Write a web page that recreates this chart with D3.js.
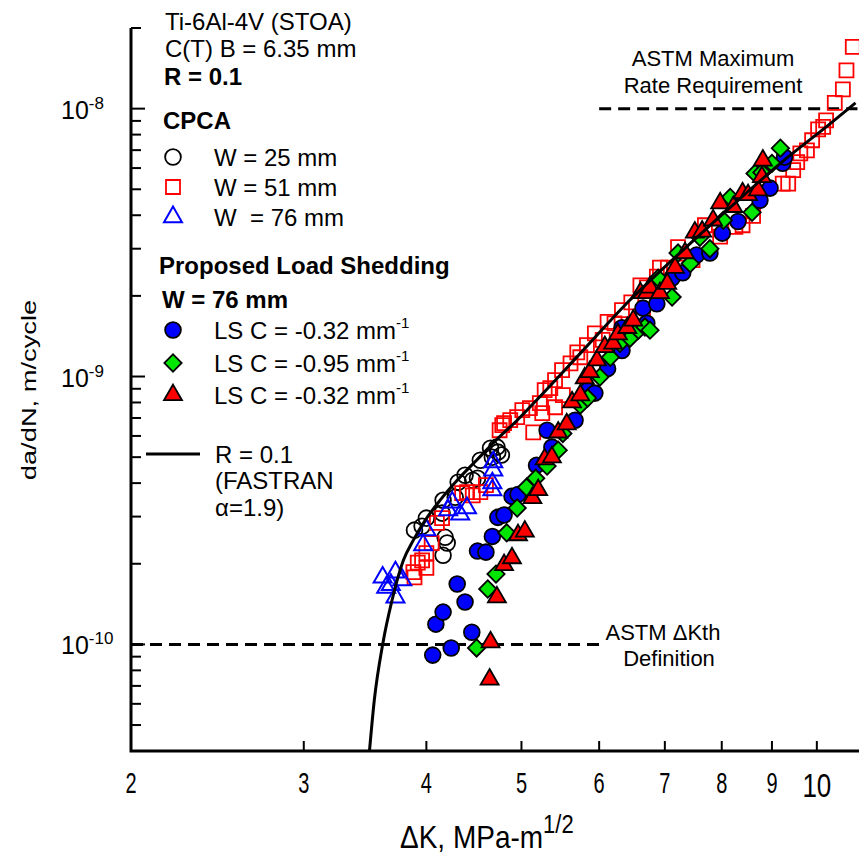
<!DOCTYPE html>
<html>
<head>
<meta charset="utf-8">
<script src="https://cdn.jsdelivr.net/npm/d3@7"></script>
<style>
body { margin: 0; background: #fff; }
svg { display: block; font-family: "Liberation Sans", Arial, sans-serif; }
</style>
</head>
<body>
<div id="chart"></div>
<script>
// CPCA data [deltaK, da/dN]
const cpcaW25 = [[3.89,2.67e-10],[3.96,2.76e-10],[4.00,2.96e-10],[4.15,3.09e-10],[4.16,3.45e-10],
  [4.18,2.51e-10],[4.20,2.39e-10],[4.16,2.15e-10],[4.31,4.03e-10],[4.38,4.28e-10],[4.46,4.10e-10],
  [4.51,4.17e-10],[4.54,4.87e-10],[4.65,5.40e-10],[4.67,5.00e-10],[4.72,5.45e-10],[4.73,5.22e-10],
  [4.77,5.09e-10],[4.28,3.54e-10]];

const cpcaW51 = [[3.88,1.86e-10],[3.92,2.02e-10],[4.00,1.93e-10],[3.89,1.78e-10],[3.96,2.06e-10],
  [4.00,2.19e-10],[4.05,2.39e-10],[4.10,2.84e-10],[4.15,2.96e-10],[4.35,3.67e-10],[4.40,3.70e-10],
  [4.46,3.60e-10],[4.54,3.70e-10],[4.60,3.93e-10],[4.75,6.30e-10],[4.78,6.58e-10],[4.80,6.70e-10],
  [4.87,6.87e-10],[4.95,7.05e-10],[5.01,7.49e-10],[5.10,7.62e-10],[5.14,6.19e-10],[5.22,7.95e-10],
  [5.25,7.30e-10],[5.28,8.89e-10],[5.35,9.05e-10],[5.41,7.68e-10],[5.41,9.69e-10],[5.50,1.056e-9],
  [5.51,8.52e-10],[5.61,1.12e-9],[5.70,1.23e-9],[5.74,1.18e-9],[5.83,1.31e-9],[5.94,1.45e-9],
  [6.05,1.37e-9],[6.12,1.60e-9],[6.22,1.58e-9],[6.33,1.77e-9],[6.47,1.89e-9],[6.61,2.19e-9],
  [6.71,2.15e-9],[6.65,1.74e-9],[6.87,2.36e-9],[6.92,2.55e-9],[7.05,2.55e-9],[7.22,3.04e-9],
  [7.25,2.55e-9],[7.47,2.72e-9],[7.69,3.67e-9],[7.97,3.33e-9],[8.26,3.62e-9],[8.40,3.67e-9],
  [8.61,3.98e-9],[9.23,5.25e-9],[9.35,5.25e-9],[9.46,5.89e-9],[9.55,6.31e-9],[9.62,6.81e-9],
  [9.77,6.99e-9],[9.89,7.62e-9],[10.03,8.37e-9],[10.15,8.55e-9],[10.22,9.04e-9],[10.43,1.05e-8],
  [10.63,1.18e-8],[10.72,1.39e-8],[10.88,1.70e-8]];

const cpcaW76 = [[3.61,1.78e-10],[3.64,1.63e-10],[3.68,1.67e-10],[3.72,1.50e-10],[3.78,1.74e-10],
  [3.72,1.86e-10],[3.97,2.35e-10],[4.00,2.67e-10],[4.21,3.17e-10],[4.25,3.39e-10],[4.33,3.06e-10],
  [4.40,3.23e-10],[4.68,4.79e-10],[4.68,4.47e-10],[4.67,4.00e-10],[4.67,3.77e-10]];

// Proposed load shedding, W = 76 mm
const lsC032 = [[4.06,9.12e-11],[4.24,9.7e-11],[4.09,1.19e-10],[4.16,1.32e-10],[4.30,1.68e-10],
  [4.38,1.44e-10],[4.45,1.11e-10],[4.51,2.23e-10],[4.60,2.21e-10],[4.67,2.53e-10],[4.73,2.98e-10],
  [4.80,3.04e-10],[4.89,3.57e-10],[4.96,3.63e-10],[5.18,4.66e-10],[5.31,6.30e-10],[5.37,5.45e-10],
  [5.67,6.87e-10],[5.84,8.89e-10],[5.94,8.67e-10],[6.12,1.07e-9],[6.33,1.25e-9],[6.33,1.52e-9],
  [6.65,1.80e-9],[6.71,1.58e-9],[6.87,1.87e-9],[7.12,2.33e-9],[7.30,2.44e-9],[7.54,2.84e-9],
  [7.78,2.89e-9],[8.01,3.43e-9],[8.31,3.79e-9],[8.75,4.55e-9],[8.96,5.05e-9],[9.23,6.25e-9],
  [9.27,6.59e-9]];

const lsC095 = [[4.50,9.7e-11],[4.62,1.61e-10],[4.71,1.83e-10],[4.83,2.61e-10],[4.95,3.23e-10],
  [5.06,3.86e-10],[5.17,4.17e-10],[5.31,4.63e-10],[5.45,5.31e-10],[5.51,6.13e-10],[5.74,7.82e-10],
  [5.84,8.31e-10],[6.01,9.95e-10],[6.16,1.18e-9],[6.30,1.33e-9],[6.45,1.39e-9],[6.58,1.49e-9],
  [6.68,1.53e-9],[6.76,1.49e-9],[6.89,2.33e-9],[7.12,1.98e-9],[7.22,2.89e-9],[7.43,2.64e-9],
  [7.60,3.31e-9],[7.78,3.00e-9],[8.03,3.83e-9],[8.16,4.66e-9],[8.59,4.10e-9],[8.65,5.73e-9],
  [8.79,5.78e-9],[9.00,6.25e-9],[9.18,7.12e-9]];

const lsC032b = [[4.64,7.4e-11],[4.65,1.02e-10],[4.72,1.50e-10],[4.80,1.98e-10],[4.89,2.10e-10],
  [4.96,2.56e-10],[5.04,2.64e-10],[5.13,3.52e-10],[5.20,3.77e-10],[5.28,4.91e-10],[5.37,5.00e-10],
  [5.45,6.19e-10],[5.56,6.64e-10],[5.63,8.02e-10],[5.74,8.52e-10],[5.80,9.85e-10],[5.87,1.04e-9],
  [5.97,1.15e-9],[6.08,1.29e-9],[6.20,1.33e-9],[6.27,1.44e-9],[6.41,1.52e-9],[6.50,1.62e-9],
  [6.61,2.05e-9],[6.71,2.05e-9],[6.76,2.15e-9],[6.92,2.05e-9],[7.04,2.22e-9],[7.17,2.55e-9],
  [7.34,2.89e-9],[7.51,3.45e-9],[7.64,3.48e-9],[7.84,3.83e-9],[7.97,4.44e-9],[8.22,4.30e-9],
  [8.40,4.84e-9],[8.51,4.76e-9],[8.71,4.96e-9],[8.79,5.56e-9],[8.81,6.41e-9]];

// FASTRAN R = 0.1, alpha = 1.9
const fastranR01 = [[3.50,4.0e-11],[3.54,6.2e-11],[3.61,1.0e-10],[3.69,1.46e-10],[3.79,2.06e-10],
  [3.88,2.45e-10],[3.99,2.91e-10],[4.13,3.45e-10],[4.30,4.10e-10],[4.50,4.87e-10],[4.71,5.78e-10],
  [4.95,6.87e-10],[5.18,8.16e-10],[5.74,1.22e-9],[6.45,1.93e-9],[7.25,2.89e-9],[8.16,4.28e-9],
  [9.18,6.25e-9],[10.32,8.79e-9],[10.95,1.05e-8]];

// ASTM limits: [da/dN, deltaK from, deltaK to]
const astmLimits = [[1e-10, 2, 6], [1e-8, 6, 11.0]];

const xTickValues = [3, 4, 5, 6, 7, 8, 9, 10];
const xTickLabels = ['2', '3', '4', '5', '6', '7', '8', '9'];
const yMajorValues = [1e-10, 1e-9, 1e-8];
const yMajorExps = ['-10', '-9', '-8'];

const W = 859, H = 856;
const svg = d3.select('#chart').append('svg').attr('width', W).attr('height', H);

const x = d3.scaleLog().domain([2, 11.04]).range([131, 859]);
const y = d3.scaleLog().domain([4e-11, 2e-8]).range([751, 28]);

// axis lines
svg.append('path')
  .attr('d', `M${x(2)},${y(2e-8)}V${y(4e-11)}H${x(11.04)}`)
  .attr('fill', 'none').attr('stroke', '#000').attr('stroke-width', 3);

// y ticks (inside)
y.ticks().filter(v => v > 4.1e-11).forEach(v => {
  const major = Math.abs(Math.log10(v) - Math.round(Math.log10(v))) < 1e-6;
  svg.append('line')
    .attr('x1', x(2)).attr('x2', x(2) + (major ? 14 : 10))
    .attr('y1', y(v)).attr('y2', y(v))
    .attr('stroke', '#000').attr('stroke-width', 2);
});
// x ticks (inside)
xTickValues.forEach(v => {
  svg.append('line')
    .attr('x1', x(v)).attr('x2', x(v))
    .attr('y1', y(4e-11)).attr('y2', y(4e-11) - 10)
    .attr('stroke', '#000').attr('stroke-width', 2);
});

// x tick labels
xTickLabels.forEach(t => {
  svg.append('text')
    .attr('transform', `translate(${x(+t)},793) scale(1,1.43)`)
    .attr('text-anchor', 'middle').attr('font-size', 20).text(t);
});
svg.append('text')
  .attr('transform', `translate(${x(10)},797) scale(1,1.3)`)
  .attr('text-anchor', 'middle').attr('font-size', 26).text('10');

// y tick labels
yMajorValues.forEach((v, i) => {
  const t = svg.append('text').attr('x', 61).attr('y', y(v) + 10).attr('font-size', 25);
  t.append('tspan').text('10');
  t.append('tspan').attr('dy', -10).attr('font-size', 17).text(yMajorExps[i]);
});

// axis titles
svg.append('text')
  .attr('transform', 'translate(36,390) rotate(-90) scale(1.4,1)')
  .attr('text-anchor', 'middle').attr('font-size', 19.5).text('da/dN, m/cycle');
const xt = svg.append('text').attr('transform', 'translate(400,848) scale(1,1.15)')
  .attr('font-size', 28);
xt.append('tspan').text('\u0394K, MPa-m');
xt.append('tspan').attr('dy', -13).attr('font-size', 22).text('1/2');

// ASTM dashed limits
astmLimits.forEach(d => {
  svg.append('line')
    .attr('x1', x(d[1])).attr('x2', x(d[2]))
    .attr('y1', y(d[0])).attr('y2', y(d[0]))
    .attr('stroke', '#000').attr('stroke-width', 3).attr('stroke-dasharray', '12,7');
});

// markers
const circleSym = d3.symbol(d3.symbolCircle, 195)();
const squareSym = d3.symbol(d3.symbolSquare, 196)();
const triSym = d3.symbol(d3.symbolTriangle, 140)();
const diamondSym = d3.symbol(d3.symbolSquare, 150)();

const series = [
  { data: cpcaW25, sym: circleSym, fill: 'none', stroke: '#000', sw: 1.8, rot: 0 },
  { data: cpcaW51, sym: squareSym, fill: 'none', stroke: '#ff0000', sw: 1.8, rot: 0 },
  { data: cpcaW76, sym: triSym, fill: 'none', stroke: '#0000ff', sw: 2, rot: 0 },
  { data: lsC032, sym: circleSym, fill: '#0000ff', stroke: '#000', sw: 1.8, rot: 0 },
  { data: lsC095, sym: diamondSym, fill: '#00e600', stroke: '#000', sw: 1.8, rot: 45 },
  { data: lsC032b, sym: triSym, fill: '#ff0000', stroke: '#000', sw: 1.8, rot: 0 }
];

series.forEach(s => {
  svg.append('g').selectAll('path').data(s.data).join('path')
    .attr('d', s.sym)
    .attr('transform', d => `translate(${x(d[0])},${y(d[1])}) rotate(${s.rot})`)
    .attr('fill', s.fill).attr('stroke', s.stroke).attr('stroke-width', s.sw);
});

// FASTRAN curve
svg.append('path').datum(fastranR01)
  .attr('d', d3.line().x(d => x(d[0])).y(d => y(d[1])).curve(d3.curveMonotoneX))
  .attr('fill', 'none').attr('stroke', '#000').attr('stroke-width', 3);

// legend block
const txt = (tx, ty, s, opts = {}) => svg.append('text')
  .attr('x', tx).attr('y', ty).attr('font-size', opts.size || 24)
  .attr('font-weight', opts.bold ? 'bold' : null)
  .attr('text-anchor', opts.anchor || 'start')
  .style('white-space', 'pre').text(s);

txt(165, 30, 'Ti-6Al-4V (STOA)');
txt(165, 57, 'C(T) B = 6.35 mm');
txt(164, 85, 'R = 0.1', { bold: true });
txt(163, 129, 'CPCA', { bold: true });
txt(159, 274, 'Proposed Load Shedding', { bold: true });
txt(162, 308, 'W = 76 mm', { bold: true });

const legendRows = [
  { s: series[0], y: 157, label: 'W = 25 mm' },
  { s: series[1], y: 187, label: 'W = 51 mm' },
  { s: series[2], y: 217, label: 'W  = 76 mm' }
];
legendRows.forEach(r => {
  svg.append('path').attr('d', r.s.sym)
    .attr('transform', `translate(173,${r.y}) rotate(${r.s.rot})`)
    .attr('fill', r.s.fill).attr('stroke', r.s.stroke).attr('stroke-width', r.s.sw);
  txt(214, r.y + 9, r.label);
});
const lsRows = [
  { s: series[3], y: 330, label: 'LS C = -0.32 mm' },
  { s: series[4], y: 363, label: 'LS C = -0.95 mm' },
  { s: series[5], y: 395, label: 'LS C = -0.32 mm' }
];
lsRows.forEach(r => {
  svg.append('path').attr('d', r.s.sym)
    .attr('transform', `translate(173,${r.y}) rotate(${r.s.rot})`)
    .attr('fill', r.s.fill).attr('stroke', r.s.stroke).attr('stroke-width', r.s.sw);
  const t = txt(214, r.y + 9, r.label);
  t.append('tspan').attr('dy', -11).attr('font-size', 15).text('-1');
});

// FASTRAN legend
svg.append('line').attr('x1', 146).attr('x2', 200).attr('y1', 454).attr('y2', 454)
  .attr('stroke', '#000').attr('stroke-width', 3);
txt(215, 463, 'R = 0.1');
txt(215, 489, '(FASTRAN');
txt(215, 516, '\u03b1=1.9)');

// annotations
txt(713, 66, 'ASTM Maximum', { size: 22, anchor: 'middle' });
txt(713, 93, 'Rate Requirement', { size: 22, anchor: 'middle' });
txt(663, 640, 'ASTM \u0394Kth', { size: 22, anchor: 'middle' });
txt(669, 666, 'Definition', { size: 22, anchor: 'middle' });
</script>
</body>
</html>
